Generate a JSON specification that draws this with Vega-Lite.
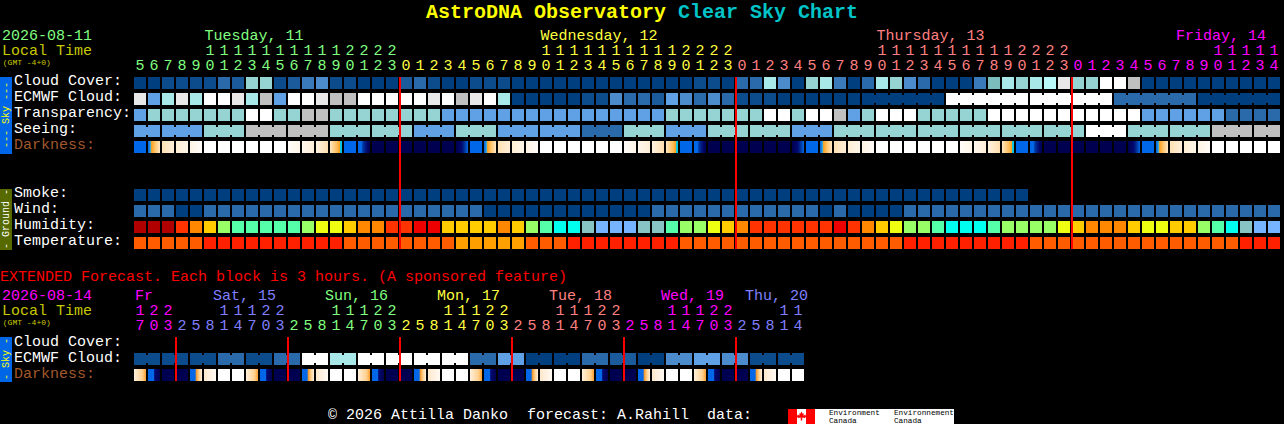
{"$schema":"https://vega.github.io/schema/vega-lite/v6.json","width":1284,"height":424,"padding":0,"autosize":"none","background":"#000000","config":{"view":{"stroke":null},"text":{"font":"Liberation Mono","fontSize":15,"baseline":"middle","align":"left"}},
"datasets":{
"cells":[
{"t":0,"r":"Cloud","v":"a"},{"t":1,"r":"Cloud","v":"a"},{"t":2,"r":"Cloud","v":"b"},{"t":3,"r":"Cloud","v":"b"},{"t":4,"r":"Cloud","v":"b"},{"t":5,"r":"Cloud","v":"b"},{"t":6,"r":"Cloud","v":"d"},{"t":7,"r":"Cloud","v":"c"},{"t":8,"r":"Cloud","v":"i"},{"t":9,"r":"Cloud","v":"i"},{"t":10,"r":"Cloud","v":"b"},{"t":11,"r":"Cloud","v":"c"},{"t":12,"r":"Cloud","v":"e"},{"t":13,"r":"Cloud","v":"f"},{"t":14,"r":"Cloud","v":"b"},{"t":15,"r":"Cloud","v":"b"},{"t":16,"r":"Cloud","v":"a"},{"t":17,"r":"Cloud","v":"a"},{"t":18,"r":"Cloud","v":"a"},{"t":19,"r":"Cloud","v":"c"},{"t":20,"r":"Cloud","v":"d"},{"t":21,"r":"Cloud","v":"b"},{"t":22,"r":"Cloud","v":"a"},{"t":23,"r":"Cloud","v":"a"},{"t":24,"r":"Cloud","v":"b"},{"t":25,"r":"Cloud","v":"b"},{"t":26,"r":"Cloud","v":"b"},{"t":27,"r":"Cloud","v":"a"},{"t":28,"r":"Cloud","v":"a"},{"t":29,"r":"Cloud","v":"a"},{"t":30,"r":"Cloud","v":"a"},{"t":31,"r":"Cloud","v":"a"},{"t":32,"r":"Cloud","v":"a"},{"t":33,"r":"Cloud","v":"a"},{"t":34,"r":"Cloud","v":"a"},{"t":35,"r":"Cloud","v":"a"},{"t":36,"r":"Cloud","v":"a"},{"t":37,"r":"Cloud","v":"a"},{"t":38,"r":"Cloud","v":"a"},{"t":39,"r":"Cloud","v":"a"},{"t":40,"r":"Cloud","v":"b"},{"t":41,"r":"Cloud","v":"b"},{"t":42,"r":"Cloud","v":"a"},{"t":43,"r":"Cloud","v":"d"},{"t":44,"r":"Cloud","v":"d"},{"t":45,"r":"Cloud","v":"j"},{"t":46,"r":"Cloud","v":"f"},{"t":47,"r":"Cloud","v":"a"},{"t":48,"r":"Cloud","v":"i"},{"t":49,"r":"Cloud","v":"j"},{"t":50,"r":"Cloud","v":"e"},{"t":51,"r":"Cloud","v":"a"},{"t":52,"r":"Cloud","v":"d"},{"t":53,"r":"Cloud","v":"j"},{"t":54,"r":"Cloud","v":"i"},{"t":55,"r":"Cloud","v":"f"},{"t":56,"r":"Cloud","v":"d"},{"t":57,"r":"Cloud","v":"a"},{"t":58,"r":"Cloud","v":"a"},{"t":59,"r":"Cloud","v":"a"},{"t":60,"r":"Cloud","v":"e"},{"t":61,"r":"Cloud","v":"h"},{"t":62,"r":"Cloud","v":"j"},{"t":63,"r":"Cloud","v":"i"},{"t":64,"r":"Cloud","v":"j"},{"t":65,"r":"Cloud","v":"k"},{"t":66,"r":"Cloud","v":"m"},{"t":67,"r":"Cloud","v":"i"},{"t":68,"r":"Cloud","v":"i"},{"t":69,"r":"Cloud","v":"n"},{"t":70,"r":"Cloud","v":"n"},{"t":71,"r":"Cloud","v":"l"},{"t":72,"r":"Cloud","v":"a"},{"t":73,"r":"Cloud","v":"a"},{"t":74,"r":"Cloud","v":"a"},{"t":75,"r":"Cloud","v":"a"},{"t":76,"r":"Cloud","v":"a"},{"t":77,"r":"Cloud","v":"a"},{"t":78,"r":"Cloud","v":"a"},{"t":79,"r":"Cloud","v":"a"},{"t":80,"r":"Cloud","v":"a"},{"t":81,"r":"Cloud","v":"a"},
{"t":0,"r":"Ecmwf","v":"m"},{"t":1,"r":"Ecmwf","v":"g"},{"t":2,"r":"Ecmwf","v":"j"},{"t":3,"r":"Ecmwf","v":"m"},{"t":4,"r":"Ecmwf","v":"j"},{"t":5,"r":"Ecmwf","v":"n"},{"t":6,"r":"Ecmwf","v":"n"},{"t":7,"r":"Ecmwf","v":"m"},{"t":8,"r":"Ecmwf","v":"j"},{"t":9,"r":"Ecmwf","v":"l"},{"t":10,"r":"Ecmwf","v":"g"},{"t":11,"r":"Ecmwf","v":"n"},{"t":12,"r":"Ecmwf","v":"n"},{"t":13,"r":"Ecmwf","v":"m"},{"t":14,"r":"Ecmwf","v":"l"},{"t":15,"r":"Ecmwf","v":"l"},{"t":16,"r":"Ecmwf","v":"n"},{"t":17,"r":"Ecmwf","v":"n"},{"t":18,"r":"Ecmwf","v":"n"},{"t":19,"r":"Ecmwf","v":"n"},{"t":20,"r":"Ecmwf","v":"n"},{"t":21,"r":"Ecmwf","v":"m"},{"t":22,"r":"Ecmwf","v":"n"},{"t":23,"r":"Ecmwf","v":"l"},{"t":24,"r":"Ecmwf","v":"m"},{"t":25,"r":"Ecmwf","v":"n"},{"t":26,"r":"Ecmwf","v":"j"},{"t":27,"r":"Ecmwf","v":"a"},{"t":28,"r":"Ecmwf","v":"a"},{"t":29,"r":"Ecmwf","v":"a"},{"t":30,"r":"Ecmwf","v":"a"},{"t":31,"r":"Ecmwf","v":"a"},{"t":32,"r":"Ecmwf","v":"b"},{"t":33,"r":"Ecmwf","v":"b"},{"t":34,"r":"Ecmwf","v":"f"},{"t":35,"r":"Ecmwf","v":"d"},{"t":36,"r":"Ecmwf","v":"d"},{"t":37,"r":"Ecmwf","v":"c"},{"t":38,"r":"Ecmwf","v":"g"},{"t":39,"r":"Ecmwf","v":"f"},{"t":40,"r":"Ecmwf","v":"d"},{"t":41,"r":"Ecmwf","v":"f"},{"t":42,"r":"Ecmwf","v":"d"},{"t":43,"r":"Ecmwf","v":"b"},{"t":44,"r":"Ecmwf","v":"b"},{"t":45,"r":"Ecmwf","v":"b"},{"t":46,"r":"Ecmwf","v":"a"},{"t":47,"r":"Ecmwf","v":"a"},{"t":48,"r":"Ecmwf","v":"a"},{"t":49,"r":"Ecmwf","v":"a"},{"t":50,"r":"Ecmwf","v":"a"},{"t":51,"r":"Ecmwf","v":"a"},{"t":52,"r":"Ecmwf","v":"a","j":1},{"t":53,"r":"Ecmwf","v":"a","j":1},{"t":54,"r":"Ecmwf","v":"a","j":1},{"t":55,"r":"Ecmwf","v":"a","j":1},{"t":56,"r":"Ecmwf","v":"a","j":1},{"t":57,"r":"Ecmwf","v":"a"},{"t":58,"r":"Ecmwf","v":"n","j":1},{"t":59,"r":"Ecmwf","v":"n","j":1},{"t":60,"r":"Ecmwf","v":"n","j":1},{"t":61,"r":"Ecmwf","v":"n","j":1},{"t":62,"r":"Ecmwf","v":"n","j":1},{"t":63,"r":"Ecmwf","v":"n"},{"t":64,"r":"Ecmwf","v":"n","j":1},{"t":65,"r":"Ecmwf","v":"n","j":1},{"t":66,"r":"Ecmwf","v":"n","j":1},{"t":67,"r":"Ecmwf","v":"n","j":1},{"t":68,"r":"Ecmwf","v":"n","j":1},{"t":69,"r":"Ecmwf","v":"n"},{"t":70,"r":"Ecmwf","v":"d","j":1},{"t":71,"r":"Ecmwf","v":"d","j":1},{"t":72,"r":"Ecmwf","v":"d","j":1},{"t":73,"r":"Ecmwf","v":"d","j":1},{"t":74,"r":"Ecmwf","v":"d","j":1},{"t":75,"r":"Ecmwf","v":"d"},{"t":76,"r":"Ecmwf","v":"a","j":1},{"t":77,"r":"Ecmwf","v":"a","j":1},{"t":78,"r":"Ecmwf","v":"a","j":1},{"t":79,"r":"Ecmwf","v":"a","j":1},{"t":80,"r":"Ecmwf","v":"a","j":1},{"t":81,"r":"Ecmwf","v":"a"},
{"t":0,"r":"Transp","v":"g"},{"t":1,"r":"Transp","v":"i"},{"t":2,"r":"Transp","v":"i"},{"t":3,"r":"Transp","v":"i"},{"t":4,"r":"Transp","v":"i"},{"t":5,"r":"Transp","v":"i"},{"t":6,"r":"Transp","v":"i"},{"t":7,"r":"Transp","v":"i"},{"t":8,"r":"Transp","v":"n"},{"t":9,"r":"Transp","v":"n"},{"t":10,"r":"Transp","v":"i"},{"t":11,"r":"Transp","v":"i"},{"t":12,"r":"Transp","v":"l"},{"t":13,"r":"Transp","v":"l"},{"t":14,"r":"Transp","v":"i"},{"t":15,"r":"Transp","v":"i"},{"t":16,"r":"Transp","v":"i"},{"t":17,"r":"Transp","v":"i"},{"t":18,"r":"Transp","v":"i"},{"t":19,"r":"Transp","v":"i"},{"t":20,"r":"Transp","v":"i"},{"t":21,"r":"Transp","v":"i"},{"t":22,"r":"Transp","v":"g"},{"t":23,"r":"Transp","v":"g"},{"t":24,"r":"Transp","v":"g"},{"t":25,"r":"Transp","v":"g"},{"t":26,"r":"Transp","v":"g"},{"t":27,"r":"Transp","v":"g"},{"t":28,"r":"Transp","v":"g"},{"t":29,"r":"Transp","v":"g"},{"t":30,"r":"Transp","v":"g"},{"t":31,"r":"Transp","v":"g"},{"t":32,"r":"Transp","v":"g"},{"t":33,"r":"Transp","v":"g"},{"t":34,"r":"Transp","v":"g"},{"t":35,"r":"Transp","v":"g"},{"t":36,"r":"Transp","v":"g"},{"t":37,"r":"Transp","v":"g"},{"t":38,"r":"Transp","v":"i"},{"t":39,"r":"Transp","v":"i"},{"t":40,"r":"Transp","v":"i"},{"t":41,"r":"Transp","v":"i"},{"t":42,"r":"Transp","v":"i"},{"t":43,"r":"Transp","v":"i"},{"t":44,"r":"Transp","v":"i"},{"t":45,"r":"Transp","v":"n"},{"t":46,"r":"Transp","v":"n"},{"t":47,"r":"Transp","v":"i"},{"t":48,"r":"Transp","v":"n"},{"t":49,"r":"Transp","v":"n"},{"t":50,"r":"Transp","v":"l"},{"t":51,"r":"Transp","v":"g"},{"t":52,"r":"Transp","v":"i"},{"t":53,"r":"Transp","v":"n"},{"t":54,"r":"Transp","v":"n"},{"t":55,"r":"Transp","v":"n"},{"t":56,"r":"Transp","v":"i"},{"t":57,"r":"Transp","v":"i"},{"t":58,"r":"Transp","v":"i"},{"t":59,"r":"Transp","v":"i"},{"t":60,"r":"Transp","v":"i"},{"t":61,"r":"Transp","v":"n"},{"t":62,"r":"Transp","v":"n"},{"t":63,"r":"Transp","v":"n"},{"t":64,"r":"Transp","v":"n"},{"t":65,"r":"Transp","v":"n"},{"t":66,"r":"Transp","v":"n"},{"t":67,"r":"Transp","v":"n"},{"t":68,"r":"Transp","v":"n"},{"t":69,"r":"Transp","v":"n"},{"t":70,"r":"Transp","v":"n"},{"t":71,"r":"Transp","v":"n"},{"t":72,"r":"Transp","v":"g"},{"t":73,"r":"Transp","v":"g"},{"t":74,"r":"Transp","v":"g"},{"t":75,"r":"Transp","v":"g"},{"t":76,"r":"Transp","v":"g"},{"t":77,"r":"Transp","v":"g"},{"t":78,"r":"Transp","v":"d"},{"t":79,"r":"Transp","v":"d"},{"t":80,"r":"Transp","v":"d"},{"t":81,"r":"Transp","v":"d"},
{"t":0,"r":"Seeing","v":"g","j":1},{"t":1,"r":"Seeing","v":"g"},{"t":2,"r":"Seeing","v":"g","j":1},{"t":3,"r":"Seeing","v":"g","j":1},{"t":4,"r":"Seeing","v":"g"},{"t":5,"r":"Seeing","v":"i","j":1},{"t":6,"r":"Seeing","v":"i","j":1},{"t":7,"r":"Seeing","v":"i"},{"t":8,"r":"Seeing","v":"l","j":1},{"t":9,"r":"Seeing","v":"l","j":1},{"t":10,"r":"Seeing","v":"l"},{"t":11,"r":"Seeing","v":"l","j":1},{"t":12,"r":"Seeing","v":"l","j":1},{"t":13,"r":"Seeing","v":"l"},{"t":14,"r":"Seeing","v":"i","j":1},{"t":15,"r":"Seeing","v":"i","j":1},{"t":16,"r":"Seeing","v":"i"},{"t":17,"r":"Seeing","v":"i","j":1},{"t":18,"r":"Seeing","v":"i","j":1},{"t":19,"r":"Seeing","v":"i"},{"t":20,"r":"Seeing","v":"g","j":1},{"t":21,"r":"Seeing","v":"g","j":1},{"t":22,"r":"Seeing","v":"g"},{"t":23,"r":"Seeing","v":"i","j":1},{"t":24,"r":"Seeing","v":"i","j":1},{"t":25,"r":"Seeing","v":"i"},{"t":26,"r":"Seeing","v":"g","j":1},{"t":27,"r":"Seeing","v":"g","j":1},{"t":28,"r":"Seeing","v":"g"},{"t":29,"r":"Seeing","v":"g","j":1},{"t":30,"r":"Seeing","v":"g","j":1},{"t":31,"r":"Seeing","v":"g"},{"t":32,"r":"Seeing","v":"d","j":1},{"t":33,"r":"Seeing","v":"d","j":1},{"t":34,"r":"Seeing","v":"d"},{"t":35,"r":"Seeing","v":"i","j":1},{"t":36,"r":"Seeing","v":"i","j":1},{"t":37,"r":"Seeing","v":"i"},{"t":38,"r":"Seeing","v":"g","j":1},{"t":39,"r":"Seeing","v":"g","j":1},{"t":40,"r":"Seeing","v":"g"},{"t":41,"r":"Seeing","v":"i","j":1},{"t":42,"r":"Seeing","v":"i","j":1},{"t":43,"r":"Seeing","v":"i"},{"t":44,"r":"Seeing","v":"i","j":1},{"t":45,"r":"Seeing","v":"i","j":1},{"t":46,"r":"Seeing","v":"i"},{"t":47,"r":"Seeing","v":"g","j":1},{"t":48,"r":"Seeing","v":"g","j":1},{"t":49,"r":"Seeing","v":"g"},{"t":50,"r":"Seeing","v":"i","j":1},{"t":51,"r":"Seeing","v":"i","j":1},{"t":52,"r":"Seeing","v":"i"},{"t":53,"r":"Seeing","v":"i","j":1},{"t":54,"r":"Seeing","v":"i","j":1},{"t":55,"r":"Seeing","v":"i"},{"t":56,"r":"Seeing","v":"i","j":1},{"t":57,"r":"Seeing","v":"i","j":1},{"t":58,"r":"Seeing","v":"i"},{"t":59,"r":"Seeing","v":"i","j":1},{"t":60,"r":"Seeing","v":"i","j":1},{"t":61,"r":"Seeing","v":"i"},{"t":62,"r":"Seeing","v":"i","j":1},{"t":63,"r":"Seeing","v":"i","j":1},{"t":64,"r":"Seeing","v":"i"},{"t":65,"r":"Seeing","v":"i","j":1},{"t":66,"r":"Seeing","v":"i","j":1},{"t":67,"r":"Seeing","v":"i"},{"t":68,"r":"Seeing","v":"n","j":1},{"t":69,"r":"Seeing","v":"n","j":1},{"t":70,"r":"Seeing","v":"n"},{"t":71,"r":"Seeing","v":"i","j":1},{"t":72,"r":"Seeing","v":"i","j":1},{"t":73,"r":"Seeing","v":"i"},{"t":74,"r":"Seeing","v":"i","j":1},{"t":75,"r":"Seeing","v":"i","j":1},{"t":76,"r":"Seeing","v":"i"},{"t":77,"r":"Seeing","v":"l","j":1},{"t":78,"r":"Seeing","v":"l","j":1},{"t":79,"r":"Seeing","v":"l"},{"t":80,"r":"Seeing","v":"l","j":1},{"t":81,"r":"Seeing","v":"l"},
{"t":0,"r":"Dark","v":"bl"},{"t":1,"r":"Dark","v":"dw"},{"t":2,"r":"Dark","v":"c1"},{"t":3,"r":"Dark","v":"c2"},{"t":4,"r":"Dark","v":"c3"},{"t":5,"r":"Dark","v":"n"},{"t":6,"r":"Dark","v":"n"},{"t":7,"r":"Dark","v":"n"},{"t":8,"r":"Dark","v":"n"},{"t":9,"r":"Dark","v":"n"},{"t":10,"r":"Dark","v":"n"},{"t":11,"r":"Dark","v":"e3"},{"t":12,"r":"Dark","v":"e2"},{"t":13,"r":"Dark","v":"e1"},{"t":14,"r":"Dark","v":"dk"},{"t":15,"r":"Dark","v":"bl"},{"t":16,"r":"Dark","v":"bn"},{"t":17,"r":"Dark","v":"nv"},{"t":18,"r":"Dark","v":"nv"},{"t":19,"r":"Dark","v":"nv"},{"t":20,"r":"Dark","v":"nv"},{"t":21,"r":"Dark","v":"nv"},{"t":22,"r":"Dark","v":"nv"},{"t":23,"r":"Dark","v":"nb"},{"t":24,"r":"Dark","v":"bl"},{"t":25,"r":"Dark","v":"dw"},{"t":26,"r":"Dark","v":"c1"},{"t":27,"r":"Dark","v":"c2"},{"t":28,"r":"Dark","v":"c3"},{"t":29,"r":"Dark","v":"n"},{"t":30,"r":"Dark","v":"n"},{"t":31,"r":"Dark","v":"n"},{"t":32,"r":"Dark","v":"n"},{"t":33,"r":"Dark","v":"n"},{"t":34,"r":"Dark","v":"n"},{"t":35,"r":"Dark","v":"e3"},{"t":36,"r":"Dark","v":"e2"},{"t":37,"r":"Dark","v":"e1"},{"t":38,"r":"Dark","v":"dk"},{"t":39,"r":"Dark","v":"bl"},{"t":40,"r":"Dark","v":"bn"},{"t":41,"r":"Dark","v":"nv"},{"t":42,"r":"Dark","v":"nv"},{"t":43,"r":"Dark","v":"nv"},{"t":44,"r":"Dark","v":"nv"},{"t":45,"r":"Dark","v":"nv"},{"t":46,"r":"Dark","v":"nv"},{"t":47,"r":"Dark","v":"nb"},{"t":48,"r":"Dark","v":"bl"},{"t":49,"r":"Dark","v":"dw"},{"t":50,"r":"Dark","v":"c1"},{"t":51,"r":"Dark","v":"c2"},{"t":52,"r":"Dark","v":"c3"},{"t":53,"r":"Dark","v":"n"},{"t":54,"r":"Dark","v":"n"},{"t":55,"r":"Dark","v":"n"},{"t":56,"r":"Dark","v":"n"},{"t":57,"r":"Dark","v":"n"},{"t":58,"r":"Dark","v":"n"},{"t":59,"r":"Dark","v":"e3"},{"t":60,"r":"Dark","v":"e2"},{"t":61,"r":"Dark","v":"e1"},{"t":62,"r":"Dark","v":"dk"},{"t":63,"r":"Dark","v":"bl"},{"t":64,"r":"Dark","v":"bn"},{"t":65,"r":"Dark","v":"nv"},{"t":66,"r":"Dark","v":"nv"},{"t":67,"r":"Dark","v":"nv"},{"t":68,"r":"Dark","v":"nv"},{"t":69,"r":"Dark","v":"nv"},{"t":70,"r":"Dark","v":"nv"},{"t":71,"r":"Dark","v":"nb"},{"t":72,"r":"Dark","v":"bl"},{"t":73,"r":"Dark","v":"dw"},{"t":74,"r":"Dark","v":"c1"},{"t":75,"r":"Dark","v":"c2"},{"t":76,"r":"Dark","v":"c3"},{"t":77,"r":"Dark","v":"n"},{"t":78,"r":"Dark","v":"n"},{"t":79,"r":"Dark","v":"n"},{"t":80,"r":"Dark","v":"n"},{"t":81,"r":"Dark","v":"n"},
{"t":0,"r":"Smoke","v":"a"},{"t":1,"r":"Smoke","v":"a"},{"t":2,"r":"Smoke","v":"a"},{"t":3,"r":"Smoke","v":"a"},{"t":4,"r":"Smoke","v":"a"},{"t":5,"r":"Smoke","v":"a"},{"t":6,"r":"Smoke","v":"a"},{"t":7,"r":"Smoke","v":"a"},{"t":8,"r":"Smoke","v":"a"},{"t":9,"r":"Smoke","v":"a"},{"t":10,"r":"Smoke","v":"a"},{"t":11,"r":"Smoke","v":"a"},{"t":12,"r":"Smoke","v":"a"},{"t":13,"r":"Smoke","v":"a"},{"t":14,"r":"Smoke","v":"a"},{"t":15,"r":"Smoke","v":"a"},{"t":16,"r":"Smoke","v":"a"},{"t":17,"r":"Smoke","v":"a"},{"t":18,"r":"Smoke","v":"a"},{"t":19,"r":"Smoke","v":"a"},{"t":20,"r":"Smoke","v":"a"},{"t":21,"r":"Smoke","v":"a"},{"t":22,"r":"Smoke","v":"a"},{"t":23,"r":"Smoke","v":"a"},{"t":24,"r":"Smoke","v":"a"},{"t":25,"r":"Smoke","v":"a"},{"t":26,"r":"Smoke","v":"a"},{"t":27,"r":"Smoke","v":"a"},{"t":28,"r":"Smoke","v":"a"},{"t":29,"r":"Smoke","v":"a"},{"t":30,"r":"Smoke","v":"a"},{"t":31,"r":"Smoke","v":"a"},{"t":32,"r":"Smoke","v":"a"},{"t":33,"r":"Smoke","v":"a"},{"t":34,"r":"Smoke","v":"a"},{"t":35,"r":"Smoke","v":"a"},{"t":36,"r":"Smoke","v":"a"},{"t":37,"r":"Smoke","v":"a"},{"t":38,"r":"Smoke","v":"a"},{"t":39,"r":"Smoke","v":"a"},{"t":40,"r":"Smoke","v":"a"},{"t":41,"r":"Smoke","v":"a"},{"t":42,"r":"Smoke","v":"a"},{"t":43,"r":"Smoke","v":"a"},{"t":44,"r":"Smoke","v":"a"},{"t":45,"r":"Smoke","v":"a"},{"t":46,"r":"Smoke","v":"a"},{"t":47,"r":"Smoke","v":"a"},{"t":48,"r":"Smoke","v":"a"},{"t":49,"r":"Smoke","v":"a"},{"t":50,"r":"Smoke","v":"a"},{"t":51,"r":"Smoke","v":"a"},{"t":52,"r":"Smoke","v":"a"},{"t":53,"r":"Smoke","v":"a"},{"t":54,"r":"Smoke","v":"a"},{"t":55,"r":"Smoke","v":"a"},{"t":56,"r":"Smoke","v":"a"},{"t":57,"r":"Smoke","v":"a"},{"t":58,"r":"Smoke","v":"a"},{"t":59,"r":"Smoke","v":"a"},{"t":60,"r":"Smoke","v":"a"},{"t":61,"r":"Smoke","v":"a"},{"t":62,"r":"Smoke","v":"a"},{"t":63,"r":"Smoke","v":"a"},
{"t":0,"r":"Wind","v":"d"},{"t":1,"r":"Wind","v":"d"},{"t":2,"r":"Wind","v":"d"},{"t":3,"r":"Wind","v":"a"},{"t":4,"r":"Wind","v":"a"},{"t":5,"r":"Wind","v":"d"},{"t":6,"r":"Wind","v":"d"},{"t":7,"r":"Wind","v":"d"},{"t":8,"r":"Wind","v":"d"},{"t":9,"r":"Wind","v":"d"},{"t":10,"r":"Wind","v":"d"},{"t":11,"r":"Wind","v":"d"},{"t":12,"r":"Wind","v":"d"},{"t":13,"r":"Wind","v":"d"},{"t":14,"r":"Wind","v":"d"},{"t":15,"r":"Wind","v":"d"},{"t":16,"r":"Wind","v":"d"},{"t":17,"r":"Wind","v":"d"},{"t":18,"r":"Wind","v":"d"},{"t":19,"r":"Wind","v":"d"},{"t":20,"r":"Wind","v":"d"},{"t":21,"r":"Wind","v":"d"},{"t":22,"r":"Wind","v":"d"},{"t":23,"r":"Wind","v":"d"},{"t":24,"r":"Wind","v":"d"},{"t":25,"r":"Wind","v":"a"},{"t":26,"r":"Wind","v":"a"},{"t":27,"r":"Wind","v":"a"},{"t":28,"r":"Wind","v":"a"},{"t":29,"r":"Wind","v":"a"},{"t":30,"r":"Wind","v":"a"},{"t":31,"r":"Wind","v":"a"},{"t":32,"r":"Wind","v":"a"},{"t":33,"r":"Wind","v":"a"},{"t":34,"r":"Wind","v":"a"},{"t":35,"r":"Wind","v":"a"},{"t":36,"r":"Wind","v":"a"},{"t":37,"r":"Wind","v":"d"},{"t":38,"r":"Wind","v":"d"},{"t":39,"r":"Wind","v":"d"},{"t":40,"r":"Wind","v":"d"},{"t":41,"r":"Wind","v":"d"},{"t":42,"r":"Wind","v":"d"},{"t":43,"r":"Wind","v":"d"},{"t":44,"r":"Wind","v":"d"},{"t":45,"r":"Wind","v":"d"},{"t":46,"r":"Wind","v":"d"},{"t":47,"r":"Wind","v":"d"},{"t":48,"r":"Wind","v":"d"},{"t":49,"r":"Wind","v":"a"},{"t":50,"r":"Wind","v":"d"},{"t":51,"r":"Wind","v":"a"},{"t":52,"r":"Wind","v":"a"},{"t":53,"r":"Wind","v":"a"},{"t":54,"r":"Wind","v":"a"},{"t":55,"r":"Wind","v":"d"},{"t":56,"r":"Wind","v":"d"},{"t":57,"r":"Wind","v":"d"},{"t":58,"r":"Wind","v":"d"},{"t":59,"r":"Wind","v":"d"},{"t":60,"r":"Wind","v":"d"},{"t":61,"r":"Wind","v":"d"},{"t":62,"r":"Wind","v":"d"},{"t":63,"r":"Wind","v":"d"},{"t":64,"r":"Wind","v":"d"},{"t":65,"r":"Wind","v":"d"},{"t":66,"r":"Wind","v":"d"},{"t":67,"r":"Wind","v":"d"},{"t":68,"r":"Wind","v":"d"},{"t":69,"r":"Wind","v":"d"},{"t":70,"r":"Wind","v":"d"},{"t":71,"r":"Wind","v":"d"},{"t":72,"r":"Wind","v":"d"},{"t":73,"r":"Wind","v":"d"},{"t":74,"r":"Wind","v":"d"},{"t":75,"r":"Wind","v":"d"},{"t":76,"r":"Wind","v":"d"},{"t":77,"r":"Wind","v":"d"},{"t":78,"r":"Wind","v":"d"},{"t":79,"r":"Wind","v":"d"},{"t":80,"r":"Wind","v":"d"},{"t":81,"r":"Wind","v":"d"},
{"t":0,"r":"Humid","v":"A"},{"t":1,"r":"Humid","v":"A"},{"t":2,"r":"Humid","v":"A"},{"t":3,"r":"Humid","v":"C"},{"t":4,"r":"Humid","v":"D"},{"t":5,"r":"Humid","v":"E"},{"t":6,"r":"Humid","v":"G"},{"t":7,"r":"Humid","v":"H"},{"t":8,"r":"Humid","v":"H"},{"t":9,"r":"Humid","v":"H"},{"t":10,"r":"Humid","v":"H"},{"t":11,"r":"Humid","v":"H"},{"t":12,"r":"Humid","v":"G"},{"t":13,"r":"Humid","v":"F"},{"t":14,"r":"Humid","v":"F"},{"t":15,"r":"Humid","v":"E"},{"t":16,"r":"Humid","v":"D"},{"t":17,"r":"Humid","v":"D"},{"t":18,"r":"Humid","v":"C"},{"t":19,"r":"Humid","v":"C"},{"t":20,"r":"Humid","v":"B"},{"t":21,"r":"Humid","v":"B"},{"t":22,"r":"Humid","v":"E"},{"t":23,"r":"Humid","v":"E"},{"t":24,"r":"Humid","v":"E"},{"t":25,"r":"Humid","v":"E"},{"t":26,"r":"Humid","v":"D"},{"t":27,"r":"Humid","v":"E"},{"t":28,"r":"Humid","v":"G"},{"t":29,"r":"Humid","v":"H"},{"t":30,"r":"Humid","v":"I"},{"t":31,"r":"Humid","v":"I"},{"t":32,"r":"Humid","v":"J"},{"t":33,"r":"Humid","v":"K"},{"t":34,"r":"Humid","v":"K"},{"t":35,"r":"Humid","v":"K"},{"t":36,"r":"Humid","v":"J"},{"t":37,"r":"Humid","v":"J"},{"t":38,"r":"Humid","v":"H"},{"t":39,"r":"Humid","v":"G"},{"t":40,"r":"Humid","v":"G"},{"t":41,"r":"Humid","v":"F"},{"t":42,"r":"Humid","v":"E"},{"t":43,"r":"Humid","v":"D"},{"t":44,"r":"Humid","v":"C"},{"t":45,"r":"Humid","v":"C"},{"t":46,"r":"Humid","v":"C"},{"t":47,"r":"Humid","v":"C"},{"t":48,"r":"Humid","v":"C"},{"t":49,"r":"Humid","v":"C"},{"t":50,"r":"Humid","v":"B"},{"t":51,"r":"Humid","v":"C"},{"t":52,"r":"Humid","v":"D"},{"t":53,"r":"Humid","v":"E"},{"t":54,"r":"Humid","v":"F"},{"t":55,"r":"Humid","v":"G"},{"t":56,"r":"Humid","v":"G"},{"t":57,"r":"Humid","v":"H"},{"t":58,"r":"Humid","v":"I"},{"t":59,"r":"Humid","v":"I"},{"t":60,"r":"Humid","v":"I"},{"t":61,"r":"Humid","v":"H"},{"t":62,"r":"Humid","v":"G"},{"t":63,"r":"Humid","v":"G"},{"t":64,"r":"Humid","v":"G"},{"t":65,"r":"Humid","v":"G"},{"t":66,"r":"Humid","v":"F"},{"t":67,"r":"Humid","v":"E"},{"t":68,"r":"Humid","v":"D"},{"t":69,"r":"Humid","v":"D"},{"t":70,"r":"Humid","v":"D"},{"t":71,"r":"Humid","v":"E"},{"t":72,"r":"Humid","v":"F"},{"t":73,"r":"Humid","v":"F"},{"t":74,"r":"Humid","v":"E"},{"t":75,"r":"Humid","v":"E"},{"t":76,"r":"Humid","v":"G"},{"t":77,"r":"Humid","v":"H"},{"t":78,"r":"Humid","v":"I"},{"t":79,"r":"Humid","v":"J"},{"t":80,"r":"Humid","v":"K"},{"t":81,"r":"Humid","v":"K"},
{"t":0,"r":"Temp","v":"O"},{"t":1,"r":"Temp","v":"O"},{"t":2,"r":"Temp","v":"O"},{"t":3,"r":"Temp","v":"O"},{"t":4,"r":"Temp","v":"O"},{"t":5,"r":"Temp","v":"R"},{"t":6,"r":"Temp","v":"R"},{"t":7,"r":"Temp","v":"R"},{"t":8,"r":"Temp","v":"R"},{"t":9,"r":"Temp","v":"R"},{"t":10,"r":"Temp","v":"R"},{"t":11,"r":"Temp","v":"R"},{"t":12,"r":"Temp","v":"R"},{"t":13,"r":"Temp","v":"R"},{"t":14,"r":"Temp","v":"R"},{"t":15,"r":"Temp","v":"O"},{"t":16,"r":"Temp","v":"O"},{"t":17,"r":"Temp","v":"O"},{"t":18,"r":"Temp","v":"O"},{"t":19,"r":"Temp","v":"O"},{"t":20,"r":"Temp","v":"O"},{"t":21,"r":"Temp","v":"O"},{"t":22,"r":"Temp","v":"O"},{"t":23,"r":"Temp","v":"Y"},{"t":24,"r":"Temp","v":"Y"},{"t":25,"r":"Temp","v":"Y"},{"t":26,"r":"Temp","v":"Y"},{"t":27,"r":"Temp","v":"Y"},{"t":28,"r":"Temp","v":"O"},{"t":29,"r":"Temp","v":"O"},{"t":30,"r":"Temp","v":"O"},{"t":31,"r":"Temp","v":"R"},{"t":32,"r":"Temp","v":"R"},{"t":33,"r":"Temp","v":"R"},{"t":34,"r":"Temp","v":"R"},{"t":35,"r":"Temp","v":"R"},{"t":36,"r":"Temp","v":"R"},{"t":37,"r":"Temp","v":"R"},{"t":38,"r":"Temp","v":"R"},{"t":39,"r":"Temp","v":"O"},{"t":40,"r":"Temp","v":"O"},{"t":41,"r":"Temp","v":"O"},{"t":42,"r":"Temp","v":"O"},{"t":43,"r":"Temp","v":"O"},{"t":44,"r":"Temp","v":"O"},{"t":45,"r":"Temp","v":"O"},{"t":46,"r":"Temp","v":"O"},{"t":47,"r":"Temp","v":"O"},{"t":48,"r":"Temp","v":"O"},{"t":49,"r":"Temp","v":"O"},{"t":50,"r":"Temp","v":"O"},{"t":51,"r":"Temp","v":"O"},{"t":52,"r":"Temp","v":"O"},{"t":53,"r":"Temp","v":"O"},{"t":54,"r":"Temp","v":"O"},{"t":55,"r":"Temp","v":"R"},{"t":56,"r":"Temp","v":"R"},{"t":57,"r":"Temp","v":"R"},{"t":58,"r":"Temp","v":"R"},{"t":59,"r":"Temp","v":"R"},{"t":60,"r":"Temp","v":"R"},{"t":61,"r":"Temp","v":"R"},{"t":62,"r":"Temp","v":"R"},{"t":63,"r":"Temp","v":"R"},{"t":64,"r":"Temp","v":"O"},{"t":65,"r":"Temp","v":"O"},{"t":66,"r":"Temp","v":"O"},{"t":67,"r":"Temp","v":"O"},{"t":68,"r":"Temp","v":"O"},{"t":69,"r":"Temp","v":"O"},{"t":70,"r":"Temp","v":"O"},{"t":71,"r":"Temp","v":"O"},{"t":72,"r":"Temp","v":"O"},{"t":73,"r":"Temp","v":"O"},{"t":74,"r":"Temp","v":"O"},{"t":75,"r":"Temp","v":"O"},{"t":76,"r":"Temp","v":"O"},{"t":77,"r":"Temp","v":"O"},{"t":78,"r":"Temp","v":"O"},{"t":79,"r":"Temp","v":"R"},{"t":80,"r":"Temp","v":"R"},{"t":81,"r":"Temp","v":"R"}
],
"ext":[
{"t":0,"r":"xEcmwf","v":"b","j":1},{"t":1,"r":"xEcmwf","v":"b"},{"t":2,"r":"xEcmwf","v":"b","j":1},{"t":3,"r":"xEcmwf","v":"b"},{"t":4,"r":"xEcmwf","v":"b","j":1},{"t":5,"r":"xEcmwf","v":"b"},{"t":6,"r":"xEcmwf","v":"d","j":1},{"t":7,"r":"xEcmwf","v":"d"},{"t":8,"r":"xEcmwf","v":"b","j":1},{"t":9,"r":"xEcmwf","v":"b"},{"t":10,"r":"xEcmwf","v":"d","j":1},{"t":11,"r":"xEcmwf","v":"d"},{"t":12,"r":"xEcmwf","v":"n","j":1},{"t":13,"r":"xEcmwf","v":"n"},{"t":14,"r":"xEcmwf","v":"j","j":1},{"t":15,"r":"xEcmwf","v":"j"},{"t":16,"r":"xEcmwf","v":"n","j":1},{"t":17,"r":"xEcmwf","v":"n"},{"t":18,"r":"xEcmwf","v":"n","j":1},{"t":19,"r":"xEcmwf","v":"n"},{"t":20,"r":"xEcmwf","v":"n","j":1},{"t":21,"r":"xEcmwf","v":"n"},{"t":22,"r":"xEcmwf","v":"n","j":1},{"t":23,"r":"xEcmwf","v":"n"},{"t":24,"r":"xEcmwf","v":"d","j":1},{"t":25,"r":"xEcmwf","v":"d"},{"t":26,"r":"xEcmwf","v":"g","j":1},{"t":27,"r":"xEcmwf","v":"g"},{"t":28,"r":"xEcmwf","v":"a","j":1},{"t":29,"r":"xEcmwf","v":"a"},{"t":30,"r":"xEcmwf","v":"a","j":1},{"t":31,"r":"xEcmwf","v":"a"},{"t":32,"r":"xEcmwf","v":"d","j":1},{"t":33,"r":"xEcmwf","v":"d"},{"t":34,"r":"xEcmwf","v":"c","j":1},{"t":35,"r":"xEcmwf","v":"c"},{"t":36,"r":"xEcmwf","v":"a","j":1},{"t":37,"r":"xEcmwf","v":"a"},{"t":38,"r":"xEcmwf","v":"f","j":1},{"t":39,"r":"xEcmwf","v":"f"},{"t":40,"r":"xEcmwf","v":"g","j":1},{"t":41,"r":"xEcmwf","v":"g"},{"t":42,"r":"xEcmwf","v":"f","j":1},{"t":43,"r":"xEcmwf","v":"f"},{"t":44,"r":"xEcmwf","v":"b","j":1},{"t":45,"r":"xEcmwf","v":"b"},{"t":46,"r":"xEcmwf","v":"b","j":1},{"t":47,"r":"xEcmwf","v":"b"},
{"t":0,"r":"xDark","v":"xd"},{"t":1,"r":"xDark","v":"xb"},{"t":2,"r":"xDark","v":"nv"},{"t":3,"r":"xDark","v":"nv"},{"t":4,"r":"xDark","v":"xw"},{"t":5,"r":"xDark","v":"xc"},{"t":6,"r":"xDark","v":"n"},{"t":7,"r":"xDark","v":"n"},{"t":8,"r":"xDark","v":"xd"},{"t":9,"r":"xDark","v":"xb"},{"t":10,"r":"xDark","v":"nv"},{"t":11,"r":"xDark","v":"nv"},{"t":12,"r":"xDark","v":"xw"},{"t":13,"r":"xDark","v":"xc"},{"t":14,"r":"xDark","v":"n"},{"t":15,"r":"xDark","v":"n"},{"t":16,"r":"xDark","v":"xd"},{"t":17,"r":"xDark","v":"xb"},{"t":18,"r":"xDark","v":"nv"},{"t":19,"r":"xDark","v":"nv"},{"t":20,"r":"xDark","v":"xw"},{"t":21,"r":"xDark","v":"xc"},{"t":22,"r":"xDark","v":"n"},{"t":23,"r":"xDark","v":"n"},{"t":24,"r":"xDark","v":"xd"},{"t":25,"r":"xDark","v":"xb"},{"t":26,"r":"xDark","v":"nv"},{"t":27,"r":"xDark","v":"nv"},{"t":28,"r":"xDark","v":"xw"},{"t":29,"r":"xDark","v":"xc"},{"t":30,"r":"xDark","v":"n"},{"t":31,"r":"xDark","v":"n"},{"t":32,"r":"xDark","v":"xd"},{"t":33,"r":"xDark","v":"xb"},{"t":34,"r":"xDark","v":"nv"},{"t":35,"r":"xDark","v":"nv"},{"t":36,"r":"xDark","v":"xw"},{"t":37,"r":"xDark","v":"xc"},{"t":38,"r":"xDark","v":"n"},{"t":39,"r":"xDark","v":"n"},{"t":40,"r":"xDark","v":"xd"},{"t":41,"r":"xDark","v":"xb"},{"t":42,"r":"xDark","v":"nv"},{"t":43,"r":"xDark","v":"nv"},{"t":44,"r":"xDark","v":"xw"},{"t":45,"r":"xDark","v":"xc"},{"t":46,"r":"xDark","v":"n"},{"t":47,"r":"xDark","v":"n"}
],
"dig":[
{"t":0,"r":"unit","s":"5","v":"tue"},{"t":1,"r":"unit","s":"6","v":"tue"},{"t":2,"r":"unit","s":"7","v":"tue"},{"t":3,"r":"unit","s":"8","v":"tue"},{"t":4,"r":"unit","s":"9","v":"tue"},{"t":5,"r":"unit","s":"0","v":"tue"},{"t":6,"r":"unit","s":"1","v":"tue"},{"t":7,"r":"unit","s":"2","v":"tue"},{"t":8,"r":"unit","s":"3","v":"tue"},{"t":9,"r":"unit","s":"4","v":"tue"},{"t":10,"r":"unit","s":"5","v":"tue"},{"t":11,"r":"unit","s":"6","v":"tue"},{"t":12,"r":"unit","s":"7","v":"tue"},{"t":13,"r":"unit","s":"8","v":"tue"},{"t":14,"r":"unit","s":"9","v":"tue"},{"t":15,"r":"unit","s":"0","v":"tue"},{"t":16,"r":"unit","s":"1","v":"tue"},{"t":17,"r":"unit","s":"2","v":"tue"},{"t":18,"r":"unit","s":"3","v":"tue"},
{"t":19,"r":"unit","s":"0","v":"wed"},{"t":20,"r":"unit","s":"1","v":"wed"},{"t":21,"r":"unit","s":"2","v":"wed"},{"t":22,"r":"unit","s":"3","v":"wed"},{"t":23,"r":"unit","s":"4","v":"wed"},{"t":24,"r":"unit","s":"5","v":"wed"},{"t":25,"r":"unit","s":"6","v":"wed"},{"t":26,"r":"unit","s":"7","v":"wed"},{"t":27,"r":"unit","s":"8","v":"wed"},{"t":28,"r":"unit","s":"9","v":"wed"},{"t":29,"r":"unit","s":"0","v":"wed"},{"t":30,"r":"unit","s":"1","v":"wed"},{"t":31,"r":"unit","s":"2","v":"wed"},{"t":32,"r":"unit","s":"3","v":"wed"},{"t":33,"r":"unit","s":"4","v":"wed"},{"t":34,"r":"unit","s":"5","v":"wed"},{"t":35,"r":"unit","s":"6","v":"wed"},{"t":36,"r":"unit","s":"7","v":"wed"},{"t":37,"r":"unit","s":"8","v":"wed"},{"t":38,"r":"unit","s":"9","v":"wed"},{"t":39,"r":"unit","s":"0","v":"wed"},{"t":40,"r":"unit","s":"1","v":"wed"},{"t":41,"r":"unit","s":"2","v":"wed"},{"t":42,"r":"unit","s":"3","v":"wed"},
{"t":43,"r":"unit","s":"0","v":"thu"},{"t":44,"r":"unit","s":"1","v":"thu"},{"t":45,"r":"unit","s":"2","v":"thu"},{"t":46,"r":"unit","s":"3","v":"thu"},{"t":47,"r":"unit","s":"4","v":"thu"},{"t":48,"r":"unit","s":"5","v":"thu"},{"t":49,"r":"unit","s":"6","v":"thu"},{"t":50,"r":"unit","s":"7","v":"thu"},{"t":51,"r":"unit","s":"8","v":"thu"},{"t":52,"r":"unit","s":"9","v":"thu"},{"t":53,"r":"unit","s":"0","v":"thu"},{"t":54,"r":"unit","s":"1","v":"thu"},{"t":55,"r":"unit","s":"2","v":"thu"},{"t":56,"r":"unit","s":"3","v":"thu"},{"t":57,"r":"unit","s":"4","v":"thu"},{"t":58,"r":"unit","s":"5","v":"thu"},{"t":59,"r":"unit","s":"6","v":"thu"},{"t":60,"r":"unit","s":"7","v":"thu"},{"t":61,"r":"unit","s":"8","v":"thu"},{"t":62,"r":"unit","s":"9","v":"thu"},{"t":63,"r":"unit","s":"0","v":"thu"},{"t":64,"r":"unit","s":"1","v":"thu"},{"t":65,"r":"unit","s":"2","v":"thu"},{"t":66,"r":"unit","s":"3","v":"thu"},
{"t":67,"r":"unit","s":"0","v":"fri"},{"t":68,"r":"unit","s":"1","v":"fri"},{"t":69,"r":"unit","s":"2","v":"fri"},{"t":70,"r":"unit","s":"3","v":"fri"},{"t":71,"r":"unit","s":"4","v":"fri"},{"t":72,"r":"unit","s":"5","v":"fri"},{"t":73,"r":"unit","s":"6","v":"fri"},{"t":74,"r":"unit","s":"7","v":"fri"},{"t":75,"r":"unit","s":"8","v":"fri"},{"t":76,"r":"unit","s":"9","v":"fri"},{"t":77,"r":"unit","s":"0","v":"fri"},{"t":78,"r":"unit","s":"1","v":"fri"},{"t":79,"r":"unit","s":"2","v":"fri"},{"t":80,"r":"unit","s":"3","v":"fri"},{"t":81,"r":"unit","s":"4","v":"fri"},
{"t":5,"r":"tens","s":"1","v":"tue"},{"t":6,"r":"tens","s":"1","v":"tue"},{"t":7,"r":"tens","s":"1","v":"tue"},{"t":8,"r":"tens","s":"1","v":"tue"},{"t":9,"r":"tens","s":"1","v":"tue"},{"t":10,"r":"tens","s":"1","v":"tue"},{"t":11,"r":"tens","s":"1","v":"tue"},{"t":12,"r":"tens","s":"1","v":"tue"},{"t":13,"r":"tens","s":"1","v":"tue"},{"t":14,"r":"tens","s":"1","v":"tue"},{"t":15,"r":"tens","s":"2","v":"tue"},{"t":16,"r":"tens","s":"2","v":"tue"},{"t":17,"r":"tens","s":"2","v":"tue"},{"t":18,"r":"tens","s":"2","v":"tue"},
{"t":29,"r":"tens","s":"1","v":"wed"},{"t":30,"r":"tens","s":"1","v":"wed"},{"t":31,"r":"tens","s":"1","v":"wed"},{"t":32,"r":"tens","s":"1","v":"wed"},{"t":33,"r":"tens","s":"1","v":"wed"},{"t":34,"r":"tens","s":"1","v":"wed"},{"t":35,"r":"tens","s":"1","v":"wed"},{"t":36,"r":"tens","s":"1","v":"wed"},{"t":37,"r":"tens","s":"1","v":"wed"},{"t":38,"r":"tens","s":"1","v":"wed"},{"t":39,"r":"tens","s":"2","v":"wed"},{"t":40,"r":"tens","s":"2","v":"wed"},{"t":41,"r":"tens","s":"2","v":"wed"},{"t":42,"r":"tens","s":"2","v":"wed"},
{"t":53,"r":"tens","s":"1","v":"thu"},{"t":54,"r":"tens","s":"1","v":"thu"},{"t":55,"r":"tens","s":"1","v":"thu"},{"t":56,"r":"tens","s":"1","v":"thu"},{"t":57,"r":"tens","s":"1","v":"thu"},{"t":58,"r":"tens","s":"1","v":"thu"},{"t":59,"r":"tens","s":"1","v":"thu"},{"t":60,"r":"tens","s":"1","v":"thu"},{"t":61,"r":"tens","s":"1","v":"thu"},{"t":62,"r":"tens","s":"1","v":"thu"},{"t":63,"r":"tens","s":"2","v":"thu"},{"t":64,"r":"tens","s":"2","v":"thu"},{"t":65,"r":"tens","s":"2","v":"thu"},{"t":66,"r":"tens","s":"2","v":"thu"},
{"t":77,"r":"tens","s":"1","v":"fri"},{"t":78,"r":"tens","s":"1","v":"fri"},{"t":79,"r":"tens","s":"1","v":"fri"},{"t":80,"r":"tens","s":"1","v":"fri"},{"t":81,"r":"tens","s":"1","v":"fri"},
{"t":0,"r":"xUnit","s":"7","v":"fri"},{"t":1,"r":"xUnit","s":"0","v":"fri"},{"t":2,"r":"xUnit","s":"3","v":"fri"},
{"t":3,"r":"xUnit","s":"2","v":"sat"},{"t":4,"r":"xUnit","s":"5","v":"sat"},{"t":5,"r":"xUnit","s":"8","v":"sat"},{"t":6,"r":"xUnit","s":"1","v":"sat"},{"t":7,"r":"xUnit","s":"4","v":"sat"},{"t":8,"r":"xUnit","s":"7","v":"sat"},{"t":9,"r":"xUnit","s":"0","v":"sat"},{"t":10,"r":"xUnit","s":"3","v":"sat"},
{"t":11,"r":"xUnit","s":"2","v":"tue"},{"t":12,"r":"xUnit","s":"5","v":"tue"},{"t":13,"r":"xUnit","s":"8","v":"tue"},{"t":14,"r":"xUnit","s":"1","v":"tue"},{"t":15,"r":"xUnit","s":"4","v":"tue"},{"t":16,"r":"xUnit","s":"7","v":"tue"},{"t":17,"r":"xUnit","s":"0","v":"tue"},{"t":18,"r":"xUnit","s":"3","v":"tue"},
{"t":19,"r":"xUnit","s":"2","v":"wed"},{"t":20,"r":"xUnit","s":"5","v":"wed"},{"t":21,"r":"xUnit","s":"8","v":"wed"},{"t":22,"r":"xUnit","s":"1","v":"wed"},{"t":23,"r":"xUnit","s":"4","v":"wed"},{"t":24,"r":"xUnit","s":"7","v":"wed"},{"t":25,"r":"xUnit","s":"0","v":"wed"},{"t":26,"r":"xUnit","s":"3","v":"wed"},
{"t":27,"r":"xUnit","s":"2","v":"thu"},{"t":28,"r":"xUnit","s":"5","v":"thu"},{"t":29,"r":"xUnit","s":"8","v":"thu"},{"t":30,"r":"xUnit","s":"1","v":"thu"},{"t":31,"r":"xUnit","s":"4","v":"thu"},{"t":32,"r":"xUnit","s":"7","v":"thu"},{"t":33,"r":"xUnit","s":"0","v":"thu"},{"t":34,"r":"xUnit","s":"3","v":"thu"},
{"t":35,"r":"xUnit","s":"2","v":"fri"},{"t":36,"r":"xUnit","s":"5","v":"fri"},{"t":37,"r":"xUnit","s":"8","v":"fri"},{"t":38,"r":"xUnit","s":"1","v":"fri"},{"t":39,"r":"xUnit","s":"4","v":"fri"},{"t":40,"r":"xUnit","s":"7","v":"fri"},{"t":41,"r":"xUnit","s":"0","v":"fri"},{"t":42,"r":"xUnit","s":"3","v":"fri"},
{"t":43,"r":"xUnit","s":"2","v":"sat"},{"t":44,"r":"xUnit","s":"5","v":"sat"},{"t":45,"r":"xUnit","s":"8","v":"sat"},{"t":46,"r":"xUnit","s":"1","v":"sat"},{"t":47,"r":"xUnit","s":"4","v":"sat"},
{"t":0,"r":"xTens","s":"1","v":"fri"},{"t":1,"r":"xTens","s":"2","v":"fri"},{"t":2,"r":"xTens","s":"2","v":"fri"},
{"t":6,"r":"xTens","s":"1","v":"sat"},{"t":7,"r":"xTens","s":"1","v":"sat"},{"t":8,"r":"xTens","s":"1","v":"sat"},{"t":9,"r":"xTens","s":"2","v":"sat"},{"t":10,"r":"xTens","s":"2","v":"sat"},
{"t":14,"r":"xTens","s":"1","v":"tue"},{"t":15,"r":"xTens","s":"1","v":"tue"},{"t":16,"r":"xTens","s":"1","v":"tue"},{"t":17,"r":"xTens","s":"2","v":"tue"},{"t":18,"r":"xTens","s":"2","v":"tue"},
{"t":22,"r":"xTens","s":"1","v":"wed"},{"t":23,"r":"xTens","s":"1","v":"wed"},{"t":24,"r":"xTens","s":"1","v":"wed"},{"t":25,"r":"xTens","s":"2","v":"wed"},{"t":26,"r":"xTens","s":"2","v":"wed"},
{"t":30,"r":"xTens","s":"1","v":"thu"},{"t":31,"r":"xTens","s":"1","v":"thu"},{"t":32,"r":"xTens","s":"1","v":"thu"},{"t":33,"r":"xTens","s":"2","v":"thu"},{"t":34,"r":"xTens","s":"2","v":"thu"},
{"t":38,"r":"xTens","s":"1","v":"fri"},{"t":39,"r":"xTens","s":"1","v":"fri"},{"t":40,"r":"xTens","s":"1","v":"fri"},{"t":41,"r":"xTens","s":"2","v":"fri"},{"t":42,"r":"xTens","s":"2","v":"fri"},
{"t":46,"r":"xTens","s":"1","v":"sat"},{"t":47,"r":"xTens","s":"1","v":"sat"}
],
"txt":[
{"t":-9,"r":"Cloud","s":"Cloud Cover:","v":"white"},{"t":-9,"r":"Ecmwf","s":"ECMWF Cloud:","v":"white"},{"t":-9,"r":"Transp","s":"Transparency:","v":"white"},{"t":-9,"r":"Seeing","s":"Seeing:","v":"white"},{"t":-9,"r":"Dark","s":"Darkness:","v":"brown"},{"t":-9,"r":"Smoke","s":"Smoke:","v":"white"},{"t":-9,"r":"Wind","s":"Wind:","v":"white"},{"t":-9,"r":"Humid","s":"Humidity:","v":"white"},{"t":-9,"r":"Temp","s":"Temperature:","v":"white"},
{"t":-9.857,"r":"day","s":"2026-08-11","v":"tue"},{"t":4.6,"r":"day","s":"Tuesday, 11","v":"tue"},{"t":28.6,"r":"day","s":"Wednesday, 12","v":"wed"},{"t":52.6,"r":"day","s":"Thursday, 13","v":"thu"},{"t":74,"r":"day","s":"Friday, 14","v":"fri"},
{"t":-9.857,"r":"tens","s":"Local Time","v":"local"},
{"t":-9.857,"r":"xDay","s":"2026-08-14","v":"fri"},{"t":-0.36,"r":"xDay","s":"Fr","v":"fri"},{"t":5.21,"r":"xDay","s":"Sat, 15","v":"sat"},{"t":13.21,"r":"xDay","s":"Sun, 16","v":"tue"},{"t":21.21,"r":"xDay","s":"Mon, 17","v":"wed"},{"t":29.21,"r":"xDay","s":"Tue, 18","v":"thu"},{"t":37.21,"r":"xDay","s":"Wed, 19","v":"fri"},{"t":43.21,"r":"xDay","s":"Thu, 20","v":"sat"},
{"t":-9.857,"r":"xTens","s":"Local Time","v":"local"},
{"t":-9,"r":"xCloud","s":"Cloud Cover:","v":"white"},{"t":-9,"r":"xEcmwf","s":"ECMWF Cloud:","v":"white"},{"t":-9,"r":"xDark","s":"Darkness:","v":"brown"},
{"t":-10,"r":"ext","s":"EXTENDED Forecast. Each block is 3 hours. (A sponsored feature)","v":"red"},
{"t":13.43,"r":"foot","s":"© 2026 Attilla Danko","v":"white"},{"t":27.64,"r":"foot","s":"forecast: A.Rahill","v":"white"},{"t":40.5,"r":"foot","s":"data:","v":"white"}
],
"small":[{"t":-9.8,"r":"unit","s":"(GMT -4+0)","v":"local"},{"t":-9.8,"r":"xUnit","s":"(GMT -4+0)","v":"local"}],
"titles":[{"t":20.43,"r":"title","s":"AstroDNA Observatory","v":"yellow"},{"t":38.43,"r":"title","s":"Clear Sky Chart","v":"teal"}],
"lines":[{"t":18.571,"r":"Cloud","r2":"Temp"},{"t":42.571,"r":"Cloud","r2":"Temp"},{"t":66.571,"r":"Cloud","r2":"Temp"}],
"xlines":[{"t":2.571,"r":"xCloud","r2":"xDark"},{"t":10.571,"r":"xCloud","r2":"xDark"},{"t":18.571,"r":"xCloud","r2":"xDark"},{"t":26.571,"r":"xCloud","r2":"xDark"},{"t":34.571,"r":"xCloud","r2":"xDark"},{"t":42.571,"r":"xCloud","r2":"xDark"}],
"logo":[{"t":46.286,"t2":58.143,"r":"foot","v":"n"},{"t":46.286,"t2":46.929,"r":"foot","v":"red"},{"t":47.571,"t2":48.214,"r":"foot","v":"red"}],
"logotxt1":[{"t":49.214,"r":"foot","s":"Environment","v":"black"},{"t":53.857,"r":"foot","s":"Environnement","v":"black"}],
"logotxt2":[{"t":49.214,"r":"foot","s":"Canada","v":"black"},{"t":53.857,"r":"foot","s":"Canada","v":"black"}]
},
"encoding":{
"x":{"field":"t","type":"quantitative","axis":null,"scale":{"domain":[-10,81.7142857],"range":[0,1284],"nice":false,"zero":false}},
"y":{"field":"r","type":"nominal","axis":null,"scale":{"type":"point","padding":0,"domain":["title","g4","day","tens","unit","Cloud","Ecmwf","Transp","Seeing","Dark","g5","g6","Smoke","Wind","Humid","Temp","g11","ext","xDay","xTens","xUnit","xCloud","xEcmwf","xDark","g19","g20","foot"],"range":[3,419]}},
"text":{"field":"s"},
"color":{"field":"v","type":"nominal","legend":null,"scale":{"domain":["a","b","c","d","e","f","g","h","i","j","k","l","m","n","A","B","C","D","E","F","G","H","I","J","K","R","O","Y","nv","nb","bl","dw","c1","c2","c3","e3","e2","e1","dk","bn","xd","xb","xw","xc","white","tue","wed","thu","fri","sat","local","brown","red","yellow","teal","black"],"range":["#003f7f","#0c4c8c","#1b5b9b","#2a6aaa","#3a7aba","#4c8ccc","#60a0e4","#7cbcbc","#96d4d4","#a8e8e8","#b8f8f8","#c0c0c0","#e8e8e8","#ffffff","#b00000","#ee0000","#ff3300","#ff8800","#ffcc00","#eeff11","#99ff66","#55ffaa","#00ffee","#88c4c4","#77b4ff","#ff2000","#ff5c00","#ffa000","#000050","#000070","#0068e8","#ffc060","#ffe8c8","#fff2e0","#fff8f0","#fff8f0","#fff2e0","#ffe8c8","#ffc060","#000a70","#ffd090","#0040a0","#ffb060","#fff2e0","#ffffff","#80ff80","#ffff40","#ff8080","#ff00ff","#8080ff","#c8c800","#a0582c","#ff0000","#ffff00","#00c4c8","#000000"]}}
},
"layer":[
{"data":{"name":"cells"},"mark":{"type":"point","shape":"square","size":144,"filled":true,"opacity":1,"strokeWidth":0}},
{"data":{"name":"cells"},"transform":[{"filter":"datum.j==1"}],"mark":{"type":"point","shape":"M0.8,-0.57H1.2V0.57H0.8Z","size":196,"filled":true,"opacity":1,"strokeWidth":0}},
{"data":{"name":"cells"},"transform":[{"filter":"datum.v=='dw'"}],"mark":{"type":"point","shape":"square","size":144,"filled":true,"opacity":1,"strokeWidth":0},"encoding":{"color":{"value":{"gradient":"linear","x1":0,"y1":0,"x2":1,"y2":0,"stops":[{"offset":0,"color":"#0068e8"},{"offset":0.12,"color":"#1a80e0"},{"offset":0.22,"color":"#40b0d0"},{"offset":0.3,"color":"#ffa020"},{"offset":0.55,"color":"#ffc060"},{"offset":1,"color":"#ffe8c8"}]}}}},
{"data":{"name":"cells"},"transform":[{"filter":"datum.v=='dk'"}],"mark":{"type":"point","shape":"square","size":144,"filled":true,"opacity":1,"strokeWidth":0},"encoding":{"color":{"value":{"gradient":"linear","x1":0,"y1":0,"x2":1,"y2":0,"stops":[{"offset":0,"color":"#ffe6c0"},{"offset":0.55,"color":"#ffc060"},{"offset":0.82,"color":"#ffa020"},{"offset":0.88,"color":"#00c8e8"},{"offset":1,"color":"#00c8e8"}]}}}},
{"data":{"name":"cells"},"transform":[{"filter":"datum.v=='bn'"}],"mark":{"type":"point","shape":"square","size":144,"filled":true,"opacity":1,"strokeWidth":0},"encoding":{"color":{"value":{"gradient":"linear","x1":0,"y1":0,"x2":1,"y2":0,"stops":[{"offset":0,"color":"#0068e8"},{"offset":0.3,"color":"#0068e8"},{"offset":0.4,"color":"#0038a0"},{"offset":0.75,"color":"#000a70"},{"offset":1,"color":"#000050"}]}}}},
{"data":{"name":"cells"},"transform":[{"filter":"datum.v=='nb'"}],"mark":{"type":"point","shape":"square","size":144,"filled":true,"opacity":1,"strokeWidth":0},"encoding":{"color":{"value":{"gradient":"linear","x1":0,"y1":0,"x2":1,"y2":0,"stops":[{"offset":0,"color":"#000050"},{"offset":0.5,"color":"#000a70"},{"offset":0.75,"color":"#0038a0"},{"offset":1,"color":"#0068e8"}]}}}},
{"data":{"name":"cells"},"transform":[{"filter":"datum.v=='c1'"}],"mark":{"type":"point","shape":"square","size":144,"filled":true,"opacity":1,"strokeWidth":0},"encoding":{"color":{"value":{"gradient":"linear","x1":0,"y1":0,"x2":1,"y2":0,"stops":[{"offset":0,"color":"#ffe2b4"},{"offset":1,"color":"#ffeed8"}]}}}},
{"data":{"name":"cells"},"transform":[{"filter":"datum.v=='c2'"}],"mark":{"type":"point","shape":"square","size":144,"filled":true,"opacity":1,"strokeWidth":0},"encoding":{"color":{"value":{"gradient":"linear","x1":0,"y1":0,"x2":1,"y2":0,"stops":[{"offset":0,"color":"#ffeed4"},{"offset":1,"color":"#fff6e8"}]}}}},
{"data":{"name":"cells"},"transform":[{"filter":"datum.v=='c3'"}],"mark":{"type":"point","shape":"square","size":144,"filled":true,"opacity":1,"strokeWidth":0},"encoding":{"color":{"value":{"gradient":"linear","x1":0,"y1":0,"x2":1,"y2":0,"stops":[{"offset":0,"color":"#fff4e4"},{"offset":1,"color":"#fffcf8"}]}}}},
{"data":{"name":"cells"},"transform":[{"filter":"datum.v=='e3'"}],"mark":{"type":"point","shape":"square","size":144,"filled":true,"opacity":1,"strokeWidth":0},"encoding":{"color":{"value":{"gradient":"linear","x1":0,"y1":0,"x2":1,"y2":0,"stops":[{"offset":0,"color":"#fffdf9"},{"offset":1,"color":"#fff6e8"}]}}}},
{"data":{"name":"cells"},"transform":[{"filter":"datum.v=='e2'"}],"mark":{"type":"point","shape":"square","size":144,"filled":true,"opacity":1,"strokeWidth":0},"encoding":{"color":{"value":{"gradient":"linear","x1":0,"y1":0,"x2":1,"y2":0,"stops":[{"offset":0,"color":"#fff8ec"},{"offset":1,"color":"#ffeed8"}]}}}},
{"data":{"name":"cells"},"transform":[{"filter":"datum.v=='e1'"}],"mark":{"type":"point","shape":"square","size":144,"filled":true,"opacity":1,"strokeWidth":0},"encoding":{"color":{"value":{"gradient":"linear","x1":0,"y1":0,"x2":1,"y2":0,"stops":[{"offset":0,"color":"#fff2e0"},{"offset":1,"color":"#ffdeb0"}]}}}},
{"data":{"name":"ext"},"mark":{"type":"point","shape":"square","size":144,"filled":true,"opacity":1,"strokeWidth":0,"yOffset":4}},
{"data":{"name":"ext"},"transform":[{"filter":"datum.j==1"}],"mark":{"type":"point","shape":"M0.8,-0.57H1.2V0.57H0.8Z","size":196,"filled":true,"opacity":1,"strokeWidth":0,"yOffset":4}},
{"data":{"name":"ext"},"transform":[{"filter":"datum.v=='xd'"}],"mark":{"type":"point","shape":"square","size":144,"filled":true,"opacity":1,"strokeWidth":0,"yOffset":4},"encoding":{"color":{"value":{"gradient":"linear","x1":0,"y1":0,"x2":1,"y2":0,"stops":[{"offset":0,"color":"#fff0dc"},{"offset":0.7,"color":"#ffd090"},{"offset":1,"color":"#ffa030"}]}}}},
{"data":{"name":"ext"},"transform":[{"filter":"datum.v=='xb'"}],"mark":{"type":"point","shape":"square","size":144,"filled":true,"opacity":1,"strokeWidth":0,"yOffset":4},"encoding":{"color":{"value":{"gradient":"linear","x1":0,"y1":0,"x2":1,"y2":0,"stops":[{"offset":0,"color":"#0068e8"},{"offset":0.5,"color":"#0068e8"},{"offset":0.55,"color":"#000a70"},{"offset":1,"color":"#000050"}]}}}},
{"data":{"name":"ext"},"transform":[{"filter":"datum.v=='xw'"}],"mark":{"type":"point","shape":"square","size":144,"filled":true,"opacity":1,"strokeWidth":0,"yOffset":4},"encoding":{"color":{"value":{"gradient":"linear","x1":0,"y1":0,"x2":1,"y2":0,"stops":[{"offset":0,"color":"#0068e8"},{"offset":0.42,"color":"#0068e8"},{"offset":0.55,"color":"#ffa030"},{"offset":0.75,"color":"#ffd090"},{"offset":1,"color":"#fff0dc"}]}}}},
{"data":{"name":"ext"},"transform":[{"filter":"datum.v=='xc'"}],"mark":{"type":"point","shape":"square","size":144,"filled":true,"opacity":1,"strokeWidth":0,"yOffset":4},"encoding":{"color":{"value":{"gradient":"linear","x1":0,"y1":0,"x2":1,"y2":0,"stops":[{"offset":0,"color":"#ffe8cc"},{"offset":1,"color":"#fffaf4"}]}}}},
{"data":{"name":"lines"},"mark":{"type":"rule","size":2,"yOffset":-6,"y2Offset":6},"encoding":{"y2":{"field":"r2"},"color":{"value":"#ff0000"}}},
{"data":{"name":"xlines"},"mark":{"type":"rule","size":2,"yOffset":-2,"y2Offset":10},"encoding":{"y2":{"field":"r2"},"color":{"value":"#ff0000"}}},
{"data":{"values":[{"t":-9.571,"r":"Cloud","r2":"Dark"}]},"mark":{"type":"rule","size":12,"yOffset":-6,"y2Offset":7},"encoding":{"y2":{"field":"r2"},"color":{"value":"#0066e8"}}},
{"data":{"values":[{"t":-9.571,"r":"Smoke","r2":"Temp"}]},"mark":{"type":"rule","size":12,"yOffset":-6,"y2Offset":7},"encoding":{"y2":{"field":"r2"},"color":{"value":"#566a00"}}},
{"data":{"values":[{"t":-9.571,"r":"xCloud","r2":"xDark"}]},"mark":{"type":"rule","size":12,"yOffset":-2,"y2Offset":11},"encoding":{"y2":{"field":"r2"},"color":{"value":"#0066e8"}}},
{"data":{"values":[{"t":-9.571,"r":"Transp","s":"--- Sky ---","v":"yellow"}]},"mark":{"type":"text","fontSize":10,"angle":270,"align":"center"}},
{"data":{"values":[{"t":-9.571,"r":"Wind","s":"- Ground -","v":"white"}]},"mark":{"type":"text","fontSize":10,"angle":270,"align":"center","yOffset":8}},
{"data":{"values":[{"t":-9.571,"r":"xEcmwf","s":"- Sky -","v":"yellow"}]},"mark":{"type":"text","fontSize":10,"angle":270,"align":"center","yOffset":4}},
{"data":{"name":"txt"},"transform":[{"filter":{"field":"r","oneOf":["Cloud","Ecmwf","Transp","Seeing","Dark","Smoke","Wind","Humid","Temp"]}}],"mark":{"type":"text","dy":-3}},
{"data":{"name":"txt"},"transform":[{"filter":{"field":"r","oneOf":["xCloud","xEcmwf","xDark"]}}],"mark":{"type":"text","dy":2}},
{"data":{"name":"txt"},"transform":[{"filter":{"field":"r","equal":"day"}}],"mark":{"type":"text","dy":0}},
{"data":{"name":"txt"},"transform":[{"filter":{"field":"r","equal":"ext"}}],"mark":{"type":"text","dy":1}},
{"data":{"name":"txt"},"transform":[{"filter":{"field":"r","equal":"tens"}}],"mark":{"type":"text","dy":-1}},
{"data":{"name":"txt"},"transform":[{"filter":{"field":"r","equal":"xDay"}}],"mark":{"type":"text","dy":4}},
{"data":{"name":"txt"},"transform":[{"filter":{"field":"r","equal":"xTens"}}],"mark":{"type":"text","dy":3}},
{"data":{"name":"txt"},"transform":[{"filter":{"field":"r","equal":"foot"}}],"mark":{"type":"text","dy":-5}},
{"data":{"name":"dig"},"transform":[{"filter":{"field":"r","equal":"unit"}}],"mark":{"type":"text","align":"center","dy":-2}},
{"data":{"name":"dig"},"transform":[{"filter":{"field":"r","equal":"tens"}}],"mark":{"type":"text","align":"center","dy":-1}},
{"data":{"name":"dig"},"transform":[{"filter":{"field":"r","equal":"xUnit"}}],"mark":{"type":"text","align":"center","dy":2}},
{"data":{"name":"dig"},"transform":[{"filter":{"field":"r","equal":"xTens"}}],"mark":{"type":"text","align":"center","dy":3}},
{"data":{"name":"small"},"transform":[{"filter":{"field":"r","equal":"unit"}}],"mark":{"type":"text","fontSize":8,"dy":-4}},
{"data":{"name":"small"},"transform":[{"filter":{"field":"r","equal":"xUnit"}}],"mark":{"type":"text","fontSize":8,"dy":0}},
{"data":{"name":"titles"},"mark":{"type":"text","fontSize":20,"fontWeight":"bold","dy":9}},
{"data":{"name":"logo"},"mark":{"type":"rule","size":15,"yOffset":-2.5},"encoding":{"x2":{"field":"t2"},"y":{"field":"r","type":"nominal"},"color":{"field":"v","type":"nominal"}}},
{"data":{"values":[{"t":47.25,"r":"foot","v":"red"}]},"mark":{"type":"point","filled":true,"opacity":1,"strokeWidth":0,"size":100,"yOffset":-2.5,"shape":"M0,-1L0.25,-0.55L0.45,-0.65L0.4,-0.15L0.75,-0.4L0.85,-0.15L1,-0.1L0.7,0.3L0.15,0.2L0.15,0.8L-0.15,0.8L-0.15,0.2L-0.7,0.3L-1,-0.1L-0.85,-0.15L-0.75,-0.4L-0.4,-0.15L-0.45,-0.65L-0.25,-0.55Z"}},
{"data":{"name":"logotxt1"},"mark":{"type":"text","fontSize":7.7,"dy":-6.5}},
{"data":{"name":"logotxt2"},"mark":{"type":"text","fontSize":7.7,"dy":1.5}}
]}
